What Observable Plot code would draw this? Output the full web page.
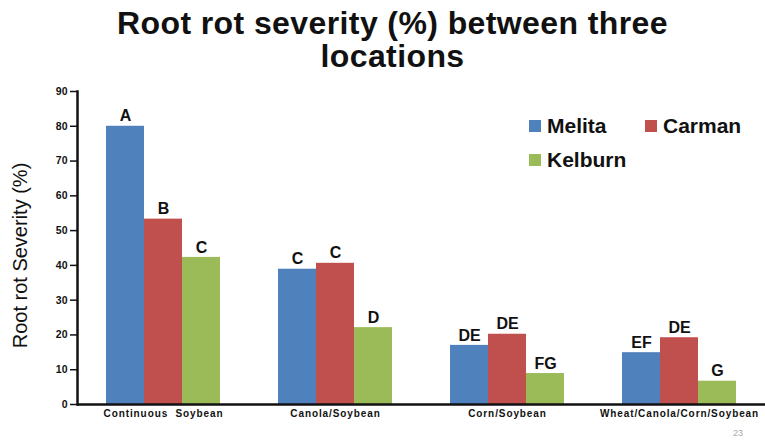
<!DOCTYPE html>
<html><head><meta charset="utf-8">
<script src="https://cdn.jsdelivr.net/npm/d3@7"></script>
<script src="https://cdn.jsdelivr.net/npm/@observablehq/plot@0.6"></script>
<style>
body{margin:0;background:#fff;font-family:"Liberation Sans",Arial,sans-serif;}
#wrap{position:relative;width:765px;height:441px;overflow:hidden;}
#title{height:80px;text-align:center;font-weight:bold;font-size:32px;line-height:33px;padding-top:7px;padding-left:20px;box-sizing:border-box;color:#111;letter-spacing:0.4px;}
#legend{position:absolute;left:529px;top:114px;font-weight:bold;font-size:21px;color:#111;}
.li{position:absolute;white-space:nowrap;display:flex;align-items:center;}
.sw{width:12px;height:12px;display:inline-block;margin-right:6px;}
#page{position:absolute;left:733px;top:428px;font-size:9px;color:#aaa;}
</style></head>
<body><div id="wrap">
<div id="title">Root rot severity (%) between three<br>locations</div>
<div id="chart"></div>
<div id="legend"></div>
<div id="page">23</div>
</div>
<script>
const groups = ["Continuous  Soybean", "Canola/Soybean", "Corn/Soybean", "Wheat/Canola/Corn/Soybean"];
const locations = ["Melita", "Carman", "Kelburn"];
const colors = ["#4F81BD", "#C0504D", "#9BBB59"];
const melita = [80, 38.9, 17, 14.9];
const carman = [53.3, 40.6, 20.2, 19.2];
const kelburn = [42.3, 22.1, 8.9, 6.7];
const melitaLetters = ["A", "C", "DE", "EF"];
const carmanLetters = ["B", "C", "DE", "DE"];
const kelburnLetters = ["C", "D", "FG", "G"];
const yTicks = [0, 10, 20, 30, 40, 50, 60, 70, 80, 90];

const series = [melita, carman, kelburn];
const letters = [melitaLetters, carmanLetters, kelburnLetters];
const data = [];
groups.forEach((g, gi) => locations.forEach((loc, li) => {
  data.push({group: g, location: loc, value: series[li][gi], letter: letters[li][gi]});
}));

const plot = Plot.plot({
  width: 765, height: 361,
  marginTop: 11, marginBottom: 37, marginLeft: 77, marginRight: 0,
  style: {fontFamily: "Liberation Sans, Arial, sans-serif", color: "#111"},
  fx: {domain: groups, padding: 0, label: null, axis: null},
  x: {domain: locations, paddingInner: 0, paddingOuter: 0.745, axis: null},
  y: {domain: [0, 90], label: null, axis: null},
  color: {domain: locations, range: colors},
  marks: [
    Plot.barY(data, {fx: "group", x: "location", y: "value", fill: "location"}),
    Plot.text(data, {fx: "group", x: "location", y: "value", text: "letter", dy: -10, fontWeight: "bold", fontSize: 16, fill: "#111"}),
    Plot.axisY({ticks: yTicks, tickSize: 7, tickPadding: 3, fontWeight: "bold", fontSize: 10.5, label: null, strokeWidth: 1.5}),
    Plot.axisFx({anchor: "bottom", fontWeight: "bold", fontSize: 10, tickSize: 0, tickPadding: 5, label: null}),
    Plot.frame({anchor: "left", strokeWidth: 2.5, facetAnchor: "left"}),
    Plot.ruleY([0], {strokeWidth: 2.5})
  ]
});
document.getElementById("chart").appendChild(plot);

const svg = d3.select(plot);
svg.selectAll('[aria-label="fx-axis tick label"] text').style("letter-spacing", "0.9px");

// y axis title
svg.append("text")
  .attr("transform", "translate(22," + (11 + (361 - 48) / 2 + 8) + ") rotate(-90)")
  .attr("text-anchor", "middle")
  .attr("dominant-baseline", "middle")
  .attr("font-size", 20)
  .attr("font-family", "Liberation Sans, Arial, sans-serif")
  .attr("fill", "#111")
  .text("Root rot Severity (%)");

// legend
const pos = [[0, 0], [116, 0], [0, 34]];
const leg = document.getElementById("legend");
locations.forEach((loc, i) => {
  const d = document.createElement("div");
  d.className = "li";
  d.style.left = pos[i][0] + "px";
  d.style.top = pos[i][1] + "px";
  d.innerHTML = '<span class="sw" style="background:' + colors[i] + '"></span>' + loc;
  leg.appendChild(d);
});
</script>
</body></html>
